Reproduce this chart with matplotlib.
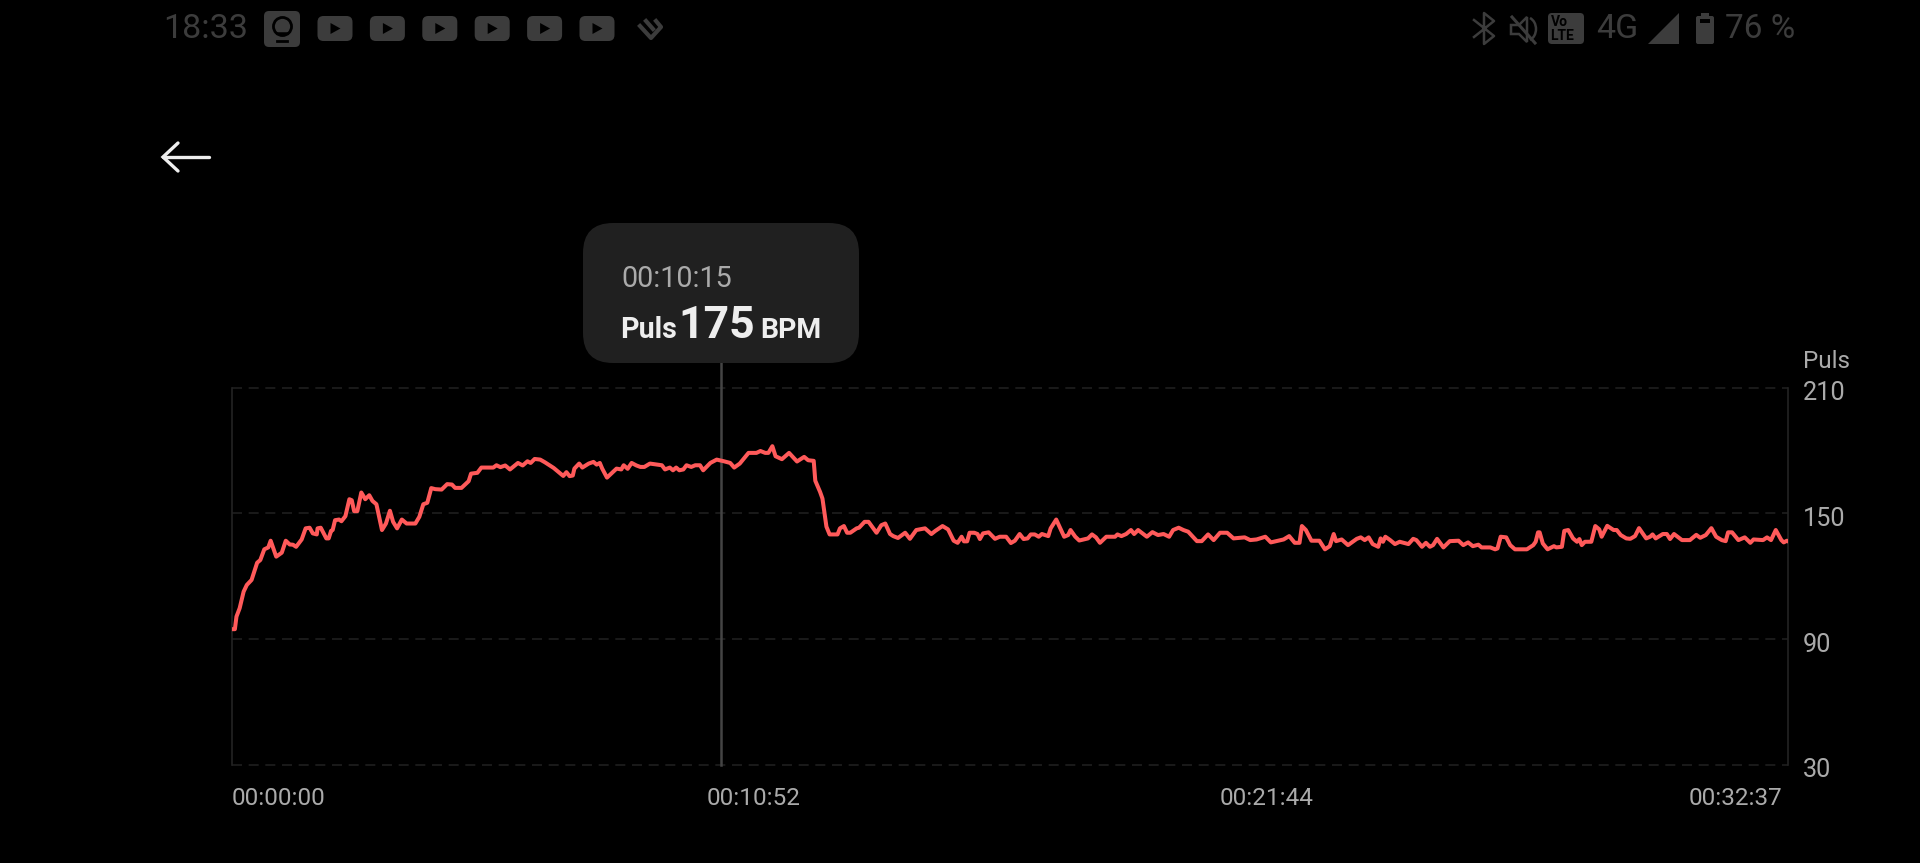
import matplotlib
matplotlib.use("Agg")
import matplotlib.pyplot as plt
from matplotlib.patches import Arc, FancyBboxPatch, Polygon, Rectangle

plt.rcParams["font.family"] = ["Roboto", "DejaVu Sans"]

#
# Data
#

seconds = [
    0, 4, 6, 10, 15, 19, 25, 32, 36, 41, 46, 49, 56, 63, 68, 73, 77, 81, 88, 93, 98, 102, 107, 108, 112, 119, 122, 125, 127,
    130, 135, 138, 143, 148, 151, 154, 158, 163, 168, 173, 177, 182, 189, 194, 199, 203, 208, 214, 220, 231, 236, 241, 246,
    251, 256, 264, 271, 277, 281, 289, 298, 301, 309, 314, 329, 333, 338, 344, 350, 360, 366, 372, 376, 381, 388, 394, 405,
    417, 421, 425, 429, 431, 437, 441, 449, 455, 459, 463, 466, 472, 484, 490, 493, 498, 503, 509, 514, 519, 526, 541, 545,
    551, 555, 559, 563, 568, 572, 578, 583, 589, 593, 602, 610, 619, 627, 632, 639, 650, 660, 665, 671, 675, 680, 684, 692,
    701, 711, 720, 725, 732, 734, 740, 743, 748, 752, 762, 765, 770, 774, 778, 786, 789, 796, 801, 811, 817, 822, 828, 832,
    838, 847, 853, 861, 872, 880, 885, 894, 901, 908, 913, 918, 921, 925, 928, 934, 938, 941, 945, 952, 960, 966, 974, 980,
    985, 991, 996, 1001, 1005, 1010, 1015, 1019, 1027, 1030, 1037, 1047, 1052, 1055, 1061, 1066, 1077, 1082, 1087, 1092,
    1100, 1111, 1114, 1119, 1125, 1131, 1135, 1140, 1151, 1158, 1165, 1172, 1179, 1184, 1191, 1197, 1203, 1214, 1220, 1228,
    1235, 1243, 1252, 1260, 1274, 1281, 1289, 1300, 1307, 1323, 1330, 1337, 1343, 1346, 1351, 1358, 1368, 1375, 1381, 1386,
    1389, 1396, 1404, 1415, 1420, 1425, 1430, 1435, 1442, 1445, 1448, 1451, 1457, 1463, 1469, 1480, 1486, 1490, 1497, 1502,
    1507, 1511, 1516, 1524, 1532, 1543, 1549, 1555, 1561, 1568, 1572, 1583, 1589, 1592, 1596, 1603, 1608, 1614, 1629, 1637,
    1640, 1643, 1645, 1649, 1655, 1663, 1666, 1673, 1676, 1681, 1687, 1692, 1695, 1698, 1702, 1710, 1715, 1720, 1723, 1730,
    1738, 1742, 1747, 1754, 1759, 1765, 1770, 1779, 1784, 1787, 1791, 1800, 1805, 1809, 1814, 1824, 1834, 1842, 1847, 1854,
    1861, 1867, 1874, 1879, 1882, 1887, 1895, 1903, 1910, 1914, 1926, 1931, 1936, 1942, 1949, 1952, 1956, 1957,
]
bpm = [
    94.8, 94.8, 100.8, 104.8, 112.7, 115.9, 118.3, 126.5, 127.8, 132.9, 133.8, 137, 129.4, 131.3, 137, 135.2, 135.1, 134.1,
    137.6, 142.9, 143.2, 140.5, 140, 142.9, 143.2, 138.1, 138.1, 141.7, 142.1, 146.8, 147.1, 146.3, 148.7, 156.8, 156.3,
    151.1, 151.1, 160, 156.8, 158.7, 156, 154.4, 142.1, 145.2, 151.3, 146, 142.9, 147.1, 145.2, 145.2, 148.4, 154.4, 155.1,
    162.1, 161.6, 161.4, 164, 163.8, 162.2, 162.2, 165.4, 169, 169.4, 171.9, 171.9, 173, 172.1, 172.9, 171, 174.1, 172.9,
    174.9, 174.1, 176, 175.7, 174.4, 171.7, 167.9, 169.7, 167.8, 168.1, 171.4, 173.8, 171.9, 173.8, 174.6, 173.3, 174.1,
    171.4, 167.1, 171.4, 171, 173, 171.3, 174.1, 172.9, 172.2, 172.2, 173.8, 173, 171, 171.9, 170.6, 171.9, 170.6, 171, 173,
    172.2, 173, 173, 170.6, 174.1, 175.7, 174.9, 174.1, 171.9, 173.8, 178.9, 178.9, 179.8, 178.9, 178.9, 182.1, 177.3, 175.9,
    178.9, 174.8, 177, 175.4, 175.1, 165.6, 160.3, 157.1, 143.7, 140, 140, 142.9, 144, 140.8, 140.8, 142.9, 143.2, 146, 146,
    140.8, 144.4, 145.2, 140.2, 139.2, 138.3, 140.8, 137.9, 142.1, 142.9, 140.2, 141.7, 144, 142.4, 137, 136, 138.9, 136.7,
    136.7, 140.8, 140.8, 140.2, 137.8, 140.5, 141, 137.9, 138.9, 138.9, 135.9, 137, 140.2, 137.8, 138.1, 140, 140, 138.9,
    140.2, 139.2, 142.9, 147.1, 138.9, 139.7, 142.1, 138.9, 137.1, 138.1, 140, 138.6, 136, 138.9, 138.9, 140, 139.2, 140.2,
    142.1, 140.2, 142.1, 138.9, 141.1, 139.7, 140.2, 138.9, 142.1, 143.2, 142.1, 141.3, 136.8, 136.8, 140, 137.3, 140.8,
    140.8, 138.1, 138.6, 137.3, 137.6, 138.9, 136.2, 137.6, 139.2, 136, 136, 144, 142.1, 137, 137, 132.9, 134.4, 140.2,
    136.8, 137.6, 134.9, 137.9, 138.6, 137.3, 138.6, 135.4, 134.1, 138.1, 136.5, 138.9, 137.3, 135.4, 136.5, 135.4, 137.9,
    137.3, 134.1, 136, 134.1, 134.9, 137.9, 133.8, 136.8, 137, 134.9, 136.2, 134.4, 135.1, 133.8, 133.8, 132.9, 133.3, 138.9,
    138.6, 134.9, 132.9, 132.9, 134.9, 136.5, 141, 141, 135.7, 132.9, 134.4, 133.8, 134.1, 141.7, 142.1, 138.1, 136.5, 137.8,
    134.9, 136.5, 136.5, 144, 142.4, 138.9, 144.1, 142.1, 142.1, 139.7, 138.1, 137.9, 139.2, 143, 138.1, 138.9, 140, 138.1,
    140.2, 140.2, 137.8, 140.2, 137.3, 137.3, 139.8, 138.4, 139.7, 143, 138.9, 137.3, 136.8, 141, 141, 137.3, 138.6, 136,
    137.6, 137.3, 138.6, 137.3, 142.1, 137.3, 136.2, 137, 136.8,
]

y_ticks = [30, 90, 150, 210]
x_ticks = [0, 652, 1304, 1957]
x_labels = ["00:00:00", "00:10:52", "00:21:44", "00:32:37"]
x_aligns = ["left", "center", "center", "right"]
x_nudges = [0, 2.6, -1.5, -3.6]

selected_second = 615
selected_time = "00:10:15"
selected_bpm = "175"

GRID = "#1f1f1f"
LABEL = "#aaaaaa"
CHROME = "#3c3c3c"

#
# Graph
#

W, H = 1920, 863
fig = plt.figure(figsize=(W / 100, H / 100), dpi=100, facecolor="black")

axes = fig.add_axes([231.7 / W, (H - 765) / H, 1556 / W, 377.3 / H], facecolor="black")
axes.set_xlim(0, 1957)
axes.set_ylim(30, 210)

for spine in ["top", "bottom"]:
    axes.spines[spine].set_visible(False)
for spine in ["left", "right"]:
    axes.spines[spine].set_color("#232323")
    axes.spines[spine].set_linewidth(1.2)

for v in y_ticks:
    axes.axhline(v, color=GRID, lw=1.2, dashes=(6, 4), clip_on=False, zorder=1)
    axes.annotate(str(v), xy=(1957, v), xytext=(10.8, -3.8), textcoords="offset points",
                  color=LABEL, fontsize=18.2, ha="left", va="center", annotation_clip=False)

axes.annotate("Puls", xy=(1957, 210), xytext=(10.8, 18.6), textcoords="offset points",
              color=LABEL, fontsize=17.5, ha="left", va="center", annotation_clip=False)

axes.set_xticks([])
axes.set_yticks([])
for tick, text, align, nudge in zip(x_ticks, x_labels, x_aligns, x_nudges):
    axes.annotate(text, xy=(tick, 30), xytext=(nudge, -24), textcoords="offset points",
                  color=LABEL, fontsize=17.5, ha=align, va="center", annotation_clip=False)

# Selected point marker, goes up to the bottom of the tooltip
axes.plot([selected_second, selected_second], [30, 221.8], color="#444444", lw=1.8, clip_on=False, zorder=2)
axes.plot(seconds, bpm, color="#ff5a5a", lw=2.9, solid_joinstyle="round", zorder=3)

#
# Overlay in screen pixels
#

overlay = fig.add_axes([0, 0, 1, 1], facecolor="none")
overlay.set_xlim(0, W)
overlay.set_ylim(H, 0)
overlay.axis("off")

# Tooltip
overlay.add_patch(FancyBboxPatch((583 + 30, 223 + 30), 276 - 60, 140 - 60, boxstyle="round,pad=30,rounding_size=30",
                                 fc="#202020", ec="none"))
overlay.text(621, 279, selected_time, color=LABEL, fontsize=20.7, va="center")
overlay.text(620.5, 338, "Puls", color="#eeeeee", fontsize=20.6, fontweight="bold", va="baseline")
overlay.text(678, 338, selected_bpm, color="#eeeeee", fontsize=32, fontweight="bold", va="baseline")
overlay.text(760, 338, "BPM", color="#eeeeee", fontsize=20.4, fontweight="bold", va="baseline")

# Back arrow
overlay.plot([209, 163], [157, 157], color="#eeeeee", lw=2.4, solid_capstyle="round")
overlay.plot([178, 163, 178], [143, 157, 171], color="#eeeeee", lw=2.4, solid_capstyle="round", solid_joinstyle="miter")

# Status bar, left side
overlay.text(163, 29, "18:33", color=CHROME, fontsize=24.5, va="center")
overlay.add_patch(FancyBboxPatch((269, 16), 26, 26, boxstyle="round,pad=5,rounding_size=5", fc=CHROME, ec="none"))
overlay.plot(282, 26, "o", ms=13, mfc="none", mec="black", mew=2)
overlay.add_patch(Rectangle((277, 33), 10, 5, fc=CHROME, ec="none"))
overlay.plot([277, 287], [33, 33], color="black", lw=1.8)
overlay.plot([277, 287], [41, 41], color="black", lw=2)
for i in range(6):
    left = 317.5 + i * 52.4
    overlay.add_patch(FancyBboxPatch((left + 6, 22), 23, 13, boxstyle="round,pad=6,rounding_size=6", fc=CHROME, ec="none"))
    overlay.add_patch(Polygon([(left + 13, 23), (left + 13, 34), (left + 23, 28.5)], fc="black", ec="none"))
overlay.plot([640, 651, 661, 656], [26, 38, 27, 21], color=CHROME, lw=3)
overlay.plot([646, 653], [21, 29], color=CHROME, lw=3)

# Status bar, right side
overlay.plot([1474, 1494, 1484, 1484, 1494, 1474], [20, 36, 44, 13, 21, 37], color=CHROME, lw=1.8)
overlay.plot([1512, 1535], [17, 43], color=CHROME, lw=2.2)
overlay.add_patch(Polygon([(1511, 25), (1519, 25), (1527, 17), (1527, 42), (1519, 34), (1511, 34)], fc="none", ec=CHROME, lw=1.8))
overlay.add_patch(Arc((1526, 29), 20, 24, theta1=-70, theta2=70, color=CHROME, lw=1.8))
overlay.add_patch(FancyBboxPatch((1552, 17), 28, 23, boxstyle="round,pad=4,rounding_size=4", fc=CHROME, ec="none"))
overlay.text(1551, 22.5, "Vo", color="black", fontsize=10, fontweight="bold", va="center")
overlay.text(1550, 35.5, "LTE", color="black", fontsize=10, fontweight="bold", va="center")
overlay.text(1596.5, 29, "4G", color=CHROME, fontsize=24.5, va="center")
overlay.add_patch(Polygon([(1648, 44), (1679, 44), (1679, 13)], fc=CHROME, ec="none"))
overlay.add_patch(FancyBboxPatch((1698, 18), 14, 24, boxstyle="round,pad=2,rounding_size=2", fc=CHROME, ec="none"))
overlay.add_patch(Rectangle((1701, 13), 8, 4, fc=CHROME, ec="none"))
overlay.add_patch(Rectangle((1700, 19), 10, 4, fc="black", ec="none"))
overlay.text(1725, 29, "76 %", color=CHROME, fontsize=24, va="center")

fig.savefig("out.png", dpi=100, facecolor="black")
